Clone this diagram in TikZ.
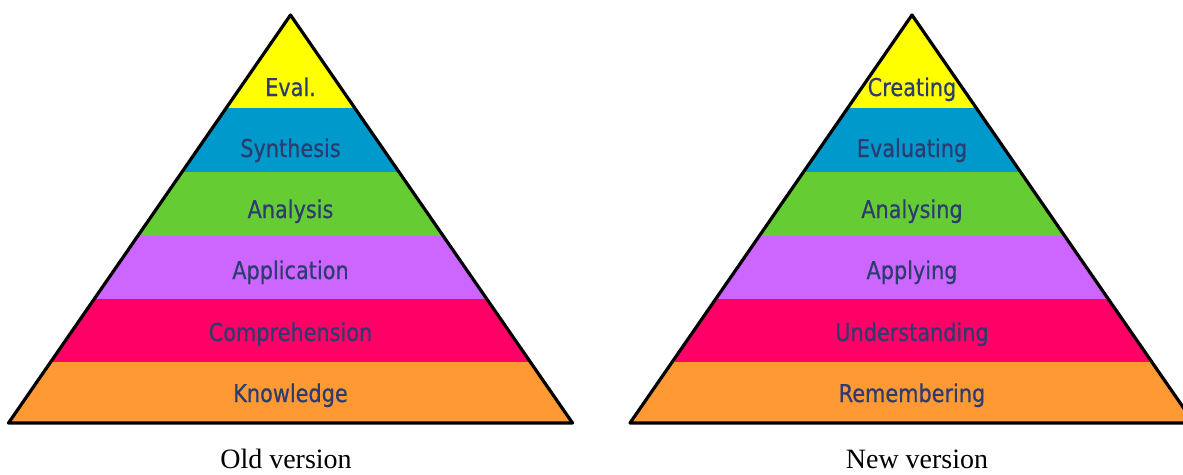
\documentclass[tikz,border=0pt]{standalone}
\usepackage{fontspec}
\setmainfont{Liberation Serif}
\newfontfamily\lblfont[FakeStretch=0.85,FakeBold=0.5]{DejaVu Sans}
\newfontfamily\capfont{Liberation Serif}
\definecolor{cYellow}{HTML}{FFFF00}
\definecolor{cBlue}{HTML}{0099CC}
\definecolor{cGreen}{HTML}{66CC33}
\definecolor{cPurple}{HTML}{CC66FF}
\definecolor{cPink}{HTML}{FF0066}
\definecolor{cOrange}{HTML}{FF9933}
\definecolor{lbltext}{RGB}{45,60,110}
\begin{document}
\begin{tikzpicture}[x=1pt,y=-1pt,
  lbl/.style={font=\lblfont\fontsize{24.5}{26}\selectfont, text=lbltext, anchor=base, inner sep=0pt},
  capt/.style={font=\capfont\fontsize{28}{30}\selectfont, text=black, anchor=base, inner sep=0pt},
  outline/.style={draw=black, line width=3.2pt, line join=round}]
\useasboundingbox (0,0) rectangle (1183,474);
\clip (0,0) rectangle (1183,474);
\fill[white] (0,0) rectangle (1183,474);

% ---------- Old version ----------
\begin{scope}[xshift=290.5pt]
  \begin{scope}
    \clip (0,15) -- (-282,423) -- (282,423) -- cycle;
    \fill[cYellow] (-300,0) rectangle (300,108);
    \fill[cBlue]   (-300,108) rectangle (300,172);
    \fill[cGreen]  (-300,172) rectangle (300,236);
    \fill[cPurple] (-300,236) rectangle (300,299);
    \fill[cPink]   (-300,299) rectangle (300,362);
    \fill[cOrange] (-300,362) rectangle (300,430);
  \end{scope}
  \draw[outline] (0,15) -- (-282,423) -- (282,423) -- cycle;
  \node[lbl] (o6) at (0,96)  {Eval.};
  \node[lbl] (o5) at (0,157) {Synthesis};
  \node[lbl] (o4) at (0,218) {Analysis};
  \node[lbl] (o3) at (0,279) {Application};
  \node[lbl] (o2) at (0,341) {Comprehension};
  \node[lbl] (o1) at (0,402) {Knowledge};
\end{scope}
\node[capt] (oldcap) at (286,468) {Old version};

% ---------- New version ----------
\begin{scope}[xshift=912pt]
  \begin{scope}
    \clip (0,15) -- (-282,423) -- (282,423) -- cycle;
    \fill[cYellow] (-300,0) rectangle (300,108);
    \fill[cBlue]   (-300,108) rectangle (300,172);
    \fill[cGreen]  (-300,172) rectangle (300,236);
    \fill[cPurple] (-300,236) rectangle (300,299);
    \fill[cPink]   (-300,299) rectangle (300,362);
    \fill[cOrange] (-300,362) rectangle (300,430);
  \end{scope}
  \draw[outline] (0,15) -- (-282,423) -- (282,423) -- cycle;
  \node[lbl] (n6) at (0,96)  {Creating};
  \node[lbl] (n5) at (0,157) {Evaluating};
  \node[lbl] (n4) at (0,218) {Analysing};
  \node[lbl] (n3) at (0,279) {Applying};
  \node[lbl] (n2) at (0,341) {Understanding};
  \node[lbl] (n1) at (0,402) {Remembering};
\end{scope}
\node[capt] (newcap) at (917,468) {New version};
\end{tikzpicture}
\end{document}
